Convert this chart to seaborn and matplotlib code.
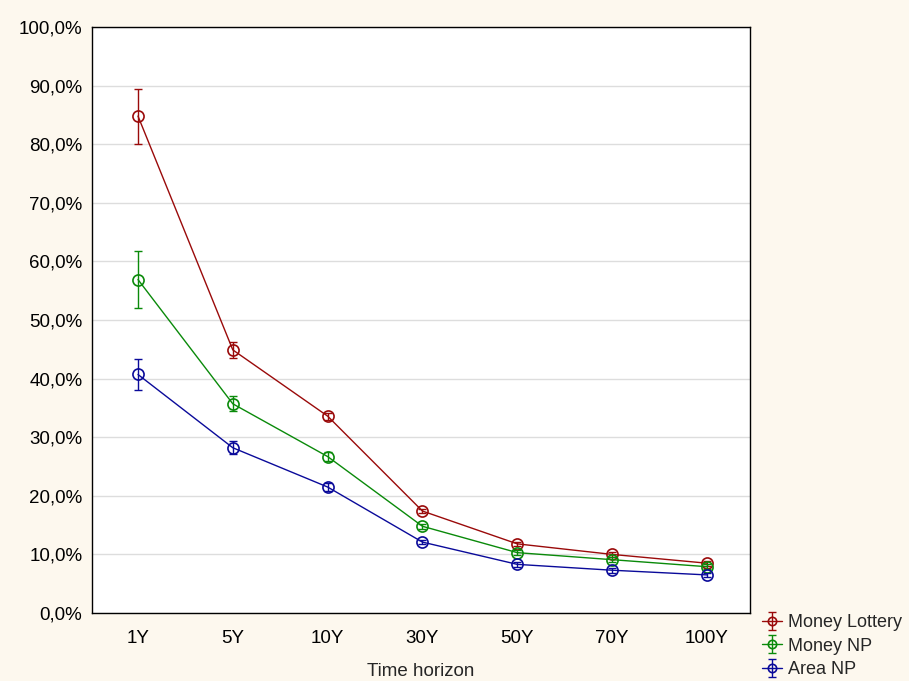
import matplotlib
matplotlib.use("Agg")
import matplotlib.pyplot as plt
import seaborn as sns
import pandas as pd
import numpy as np
from matplotlib.legend_handler import HandlerTuple
from matplotlib.ticker import FuncFormatter
from matplotlib.lines import Line2D

horizons = ["1Y", "5Y", "10Y", "30Y", "50Y", "70Y", "100Y"]
money_lottery = [84.8, 44.9, 33.6, 17.4, 11.8, 10.0, 8.5]
money_lottery_err = [4.7, 1.4, 0.6, 0.4, 0.4, 0.4, 0.4]
money_np = [56.9, 35.7, 26.7, 14.8, 10.3, 9.1, 7.9]
money_np_err = [4.8, 1.3, 0.7, 0.4, 0.4, 0.4, 0.4]
area_np = [40.7, 28.2, 21.5, 12.1, 8.3, 7.3, 6.5]
area_np_err = [2.7, 1.1, 0.6, 0.4, 0.4, 0.4, 0.4]

series_names = ["Money Lottery", "Money NP", "Area NP"]
series_vals = [money_lottery, money_np, area_np]
series_errs = [money_lottery_err, money_np_err, area_np_err]
colors = ["#9a0a0a", "#0a8a0a", "#0a0a9a"]

sns.set_style("white")
plt.rcParams["font.family"] = ["Liberation Sans", "DejaVu Sans"]

bg = "#fdf8ee"
fig = plt.figure(figsize=(9.09, 6.81), dpi=100, facecolor=bg)
ax = fig.add_axes([92/909, 1-613/681, (750-92)/909, (613-27)/681])
ax.set_facecolor("white")

rows = []
for name, vals in zip(series_names, series_vals):
    for i, v in enumerate(vals):
        rows.append({"pos": i, "value": v, "series": name})
df = pd.DataFrame(rows)

handles = []
for name, vals, errs, c in zip(series_names, series_vals, series_errs, colors):
    sub = df[df["series"] == name]
    sns.lineplot(data=sub, x="pos", y="value", ax=ax, color=c, linewidth=1.0,
                 marker="o", markersize=8, markerfacecolor="none",
                 markeredgecolor=c, markeredgewidth=1.2, legend=False)
    eb = ax.errorbar(sub["pos"], sub["value"], yerr=errs, fmt="none",
                     ecolor=c, elinewidth=1.0, capsize=3, capthick=1.0)
    handles.append(eb)

leg_handles = []
for c, eb in zip(colors, handles):
    l = Line2D([0], [0], color=c, linewidth=1.0, marker="o", markersize=6,
               markerfacecolor="none", markeredgecolor=c, markeredgewidth=1.2)
    leg_handles.append((l, eb))

ax.set_xlim(-0.485, 6.455)
ax.set_ylim(0, 100)
ax.set_xticks(range(len(horizons)))
ax.set_xticklabels(horizons)
ax.set_yticks(np.arange(0, 101, 10))
ax.yaxis.set_major_formatter(FuncFormatter(lambda v, p: f"{v:.1f}".replace(".", ",") + "%"))
ax.grid(axis="y", color="#dddddd", linewidth=1.0)
ax.set_axisbelow(True)
ax.tick_params(axis="both", direction="in", length=4, width=1, labelsize=13.5,
               colors="black")
ax.tick_params(axis="y", pad=7)
ax.tick_params(axis="x", pad=12)
for s in ax.spines.values():
    s.set_color("black")
    s.set_linewidth(1.0)
ax.set_xlabel("Time horizon", fontsize=13.5, labelpad=12)
ax.set_ylabel("")

fig.legend(leg_handles, series_names, loc="upper left",
           bbox_to_anchor=(755/909, 1-607/681), frameon=False, fontsize=13,
           handler_map={tuple: HandlerTuple(ndivide=1)}, handlelength=1.1,
           handletextpad=0.3, labelspacing=0.35, borderaxespad=0)

fig.savefig("out.png", dpi=100, facecolor=bg)
